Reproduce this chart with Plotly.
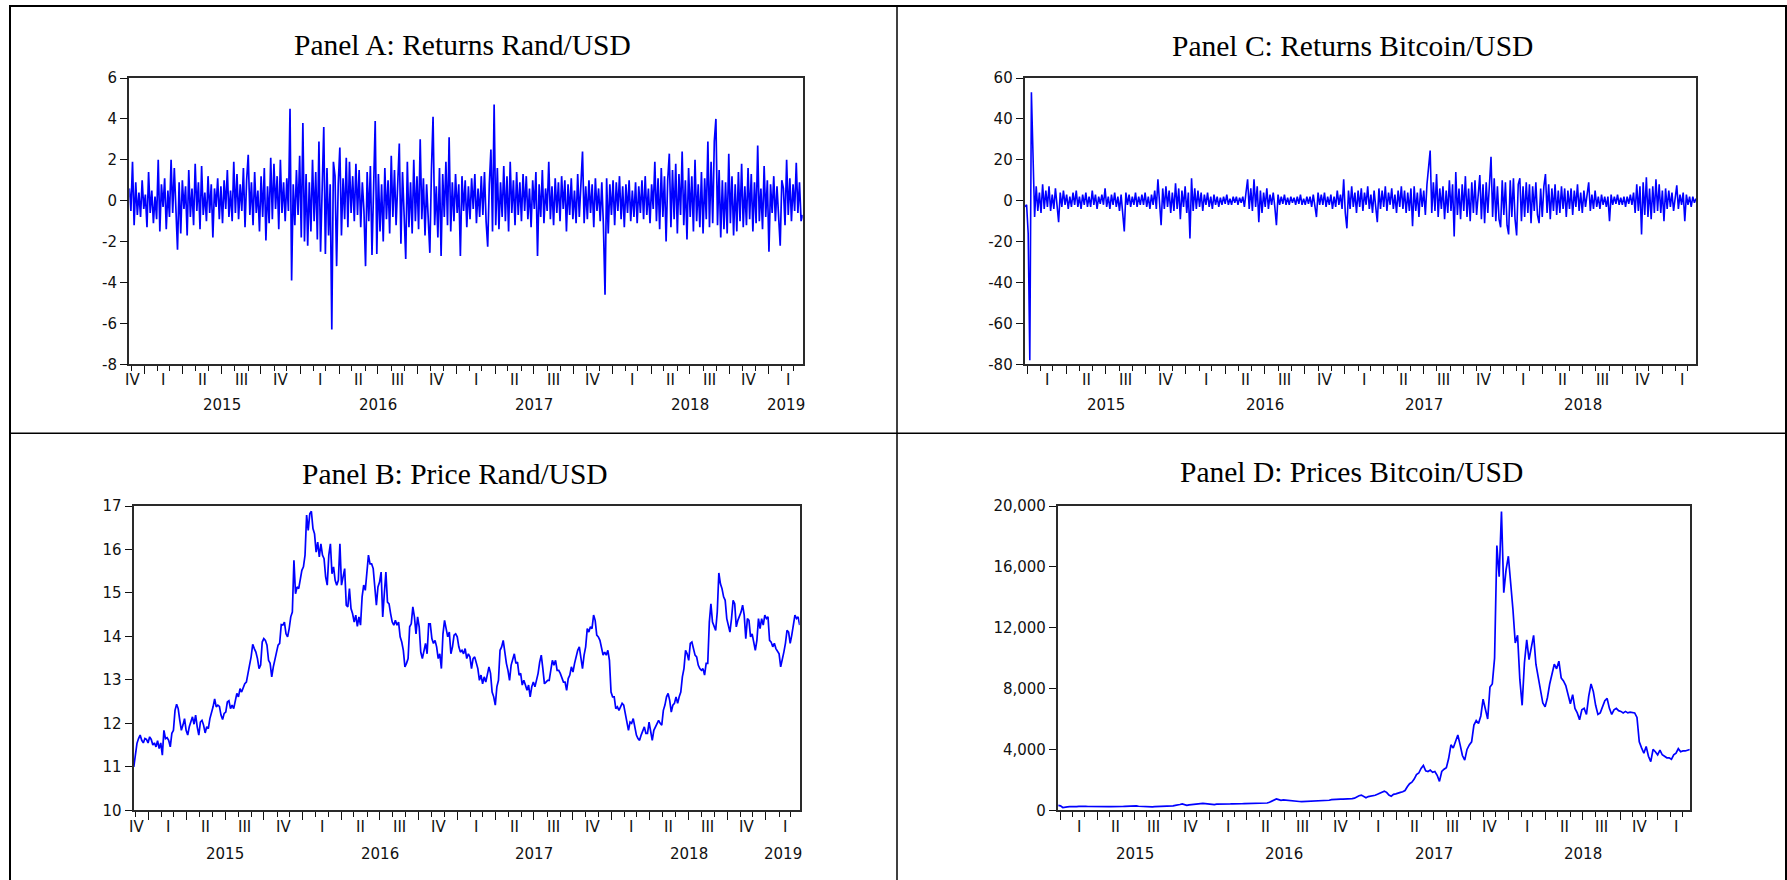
import pandas as pd
import plotly.graph_objects as go

FIG_W, FIG_H = 1787, 880

# Sample windows of the two daily series
RAND_START, RAND_END = "2014-11-27", "2019-03-22"
BTC_START, BTC_END = "2014-12-27", "2019-03-20"

# Daily log returns of Rand/USD (%)
rand_returns = [
    0.6, -0.5, 1.9, -1.2, 0.9, -0.7, 0.4, -0.8, 1.0, -0.4, 0.3, -1.3, 1.4, -0.6, 0.5, -1.1, 0.2, -0.9, 2.0, -1.5,
    0.8, -0.3, 1.1, -1.4, 0.5, -0.8, 2.0, -0.6, 1.6, -0.9, -2.4, 0.9, -1.6, 1.0, -0.4, 0.7, -1.7, 1.5, -0.8, 0.6,
    -1.2, 1.8, -0.5, 0.9, -1.4, 1.7, -0.7, 0.4, -1.0, 1.2, -0.6, 0.8, -1.8, 0.6, -0.3, 1.1, -0.9, 0.7, -1.1, 1.0,
    -0.4, 1.5, -0.8, 0.5, -1.0, 1.9, -0.6, 1.3, -0.9, 0.8, -0.5, 1.6, -1.3, 1.0, 2.25, -0.7, 0.9, -1.2, 1.4, -0.6,
    0.5, -1.5, 1.2, -0.8, 1.6, -1.95, 0.7, -1.1, 2.1, -0.9, 1.8, -0.4, 1.2, -1.4, 2.0, -0.6, 0.9, -1.0, 1.1, -0.5,
    4.5, -3.9, 0.8, -1.2, 1.5, -0.7, 2.2, -1.8, 3.8, -2.0, 1.3, -2.2, 0.9, -1.5, 2.0, -1.0, 1.4, -1.9, 2.9, -2.5,
    1.2, 3.6, -2.6, 1.6, -1.7, 0.8, -6.3, 1.9, 1.2, -3.2, 0.8, 2.6, -1.7, 1.1, -0.9, 2.1, -1.3, 1.9, -0.6, 1.2,
    -1.0, 1.8, -0.7, 1.5, -1.3, 0.9, -0.5, -3.2, 1.4, -1.0, 1.7, -2.65, 0.6, 3.9, -2.6, 1.3, -1.5, 0.8, -2.0, 1.6,
    -0.9, 1.0, -1.6, 2.2, -0.8, 1.5, -1.2, 0.6, 2.8, -2.1, 1.4, -0.7, -2.85, 1.9, -1.3, 0.9, -1.6, 2.0, -1.0, 1.2,
    -1.4, 3.0, -0.9, 1.1, -1.7, 0.8, -1.1, -2.55, 1.5, 4.1, -1.2, 0.7, -1.8, 1.6, -2.7, 1.3, -0.8, 1.9, -1.2, 3.1,
    -1.5, 0.9, -1.0, 1.3, -0.6, 0.8, -2.7, 1.2, -0.5, 1.0, -1.3, 0.7, -0.9, 1.1, -0.4, 1.3, -1.1, 0.6, -0.8, 1.2,
    -0.7, 1.4, -1.0, -2.25, 0.8, 2.5, -1.5, 4.7, -1.2, 1.6, -1.4, 0.9, -0.8, 1.7, -1.0, 1.2, -1.5, 1.9, -0.6, 1.0,
    -1.2, 1.4, -0.7, 0.9, -1.0, 1.3, -0.5, 1.2, -0.9, 0.6, -1.3, 1.0, -0.4, 1.4, -2.7, 0.8, -0.8, 1.5, -1.1, 0.6,
    -0.5, 1.9, -0.9, 0.7, -1.2, 1.1, -0.6, 0.9, -1.0, 1.2, -0.4, 1.0, -1.5, 0.8, -0.7, 1.1, -0.9, 0.5, -1.1, 1.3,
    -0.8, 0.9, 2.4, -1.1, 0.7, -0.9, 1.0, -0.6, 0.8, -1.3, 1.1, -0.5, 0.6, -1.0, 0.9, -1.2, -4.6, 1.1, -1.6, 0.8,
    -0.7, 1.0, -1.2, 0.9, -0.5, 1.2, -0.9, 0.7, -1.3, 0.8, -0.6, 1.0, -1.0, 0.5, -0.8, 0.9, -1.1, 0.7, -0.6, 1.0,
    -0.9, 1.2, -0.7, 0.6, -1.1, 0.8, -0.4, 1.9, -1.0, 1.1, -1.4, 1.6, -0.8, 1.2, -2.0, 1.0, 2.3, -1.3, 1.5, -0.9,
    1.8, -1.6, 1.3, -0.7, 2.4, -1.2, 1.0, -1.9, 1.6, -0.8, 1.2, -1.5, 2.0, -1.0, 0.8, -1.3, 1.4, -1.6, 1.1, -0.9,
    2.9, -1.3, 1.9, -1.1, 2.9, 4.0, -1.2, 1.5, -1.8, 1.0, -1.4, 0.9, -1.6, 2.3, -1.1, 1.2, -1.7, 0.8, -1.5, 1.4,
    -1.0, 1.8, -1.3, 0.7, -1.2, 1.6, -0.9, 1.3, -1.5, 0.9, -1.1, 2.7, -1.0, 0.6, -1.4, 1.7, -0.8, 1.0, -2.5, 0.8,
    -0.6, 1.2, -1.0, 0.7, -0.9, -2.2, 1.0, 0.6, -1.2, 2.0, -0.7, 1.1, -1.0, 0.8, -0.5, 1.85, -0.6, 0.9, -1.0, -0.7,
]

# Rand per US dollar
rand_price = [
    11.00, 11.23, 11.54, 11.65, 11.73, 11.61, 11.55, 11.65, 11.63, 11.55,
    11.69, 11.63, 11.50, 11.55, 11.46, 11.60, 11.42, 11.55, 11.27, 11.84,
    11.65, 11.67, 11.61, 11.46, 11.77, 11.84, 12.30, 12.44, 12.34, 12.07,
    11.84, 11.96, 12.11, 11.84, 11.73, 11.92, 12.07, 12.15, 11.98, 12.19,
    11.92, 11.73, 12.03, 12.07, 11.96, 11.78, 11.92, 11.88, 12.11, 12.23,
    12.38, 12.56, 12.38, 12.42, 12.39, 12.19, 12.09, 12.23, 12.26, 12.49,
    12.52, 12.34, 12.42, 12.34, 12.53, 12.69, 12.61, 12.80, 12.72, 12.84,
    12.91, 12.95, 13.11, 13.34, 13.53, 13.82, 13.72, 13.64, 13.49, 13.26,
    13.34, 13.87, 13.95, 13.91, 13.80, 13.45, 13.38, 13.07, 13.30, 13.47,
    13.60, 13.80, 13.84, 14.27, 14.26, 14.33, 14.06, 13.99, 14.18, 14.45,
    14.56, 15.75, 14.98, 15.14, 15.10, 15.29, 15.52, 15.60, 15.87, 16.79,
    16.44, 16.82, 16.88, 16.48, 16.36, 15.94, 16.17, 15.83, 16.13, 15.87,
    15.79, 15.37, 15.18, 15.87, 16.13, 15.44, 15.60, 15.29, 15.18, 15.29,
    16.13, 15.18, 15.37, 15.56, 14.72, 14.68, 15.10, 14.64, 14.52,
    14.33, 14.49, 14.23, 14.45, 14.26, 14.91, 15.18, 15.06, 15.52, 15.87,
    15.67, 15.67, 15.56, 15.06, 14.72, 15.14, 15.25, 15.48, 14.45,
    14.98, 15.48, 14.79, 14.75, 14.52, 14.33, 14.26, 14.37, 14.26,
    14.33, 13.99, 13.87, 13.68, 13.30, 13.38, 13.49, 14.22, 14.29, 14.68,
    14.45, 14.06, 14.45, 14.22, 13.64, 13.49, 13.68, 13.84, 13.60, 14.29,
    14.29, 13.95, 13.84, 13.91, 13.76, 13.49, 13.60, 13.26, 14.06, 14.37,
    14.18, 13.99, 14.10, 13.60, 13.76, 14.03, 14.06, 13.99, 13.76,
    13.64, 13.68, 13.60, 13.72, 13.49, 13.60, 13.53, 13.26, 13.49, 13.53,
    13.41, 13.26, 12.99, 13.11, 12.91, 13.07, 12.95, 13.11, 13.30, 13.15,
    12.72, 12.61, 12.42, 12.84, 12.99, 13.68, 13.76, 13.91, 13.57, 13.38,
    13.22, 12.99, 13.34, 13.45, 13.60, 13.38, 13.41, 13.11, 13.15, 12.88,
    12.99, 12.88, 12.76, 12.88, 12.61, 12.84, 12.95, 12.84, 12.99, 13.15,
    13.41, 13.57, 13.26, 12.91, 12.95, 12.99, 12.99, 13.18, 13.45, 13.34,
    13.45, 13.22, 13.22, 13.15, 13.07, 12.95, 12.95, 12.76, 13.03, 13.11,
    13.30, 13.18, 13.38, 13.57, 13.68, 13.76, 13.53, 13.26, 13.57, 13.76,
    14.18, 14.10, 14.22, 14.18, 14.49, 14.37, 14.03, 13.99, 13.91, 13.72,
    13.57, 13.64, 13.57, 13.68, 13.45, 12.72, 12.61, 12.61, 12.34, 12.38,
    12.30, 12.38, 12.46, 12.42, 12.23, 12.07, 11.84, 12.03, 12.00, 12.11,
    11.92, 11.73, 11.65, 11.61, 11.73, 11.84, 11.92, 11.77, 11.77, 12.03,
    11.84, 11.61, 11.84, 11.92, 12.03, 12.07, 12.00, 11.96, 12.30, 12.42,
    12.61, 12.69, 12.53, 12.26, 12.42, 12.46, 12.61, 12.46, 12.61, 12.72,
    13.07, 13.26, 13.68, 13.60, 13.45, 13.84, 13.87, 13.68, 13.57, 13.53,
    13.34, 13.26, 13.22, 13.26, 13.11, 13.38, 13.38, 14.33, 14.75, 14.33,
    14.22, 14.14, 14.56, 15.46, 15.21, 15.10, 14.91, 14.83, 14.41, 14.26,
    14.10, 14.41, 14.83, 14.75, 14.22, 14.37, 14.45, 14.56, 14.72, 14.49,
    13.95, 14.41, 14.37, 13.99, 14.06, 13.87, 13.68, 13.91, 14.41, 14.18,
    14.41, 14.26, 14.49, 14.41, 14.45, 13.91, 13.87, 13.76, 13.84, 13.72,
    13.64, 13.60, 13.30, 13.45, 13.64, 13.84, 14.14, 14.10, 13.84, 14.03,
    14.22, 14.49, 14.41, 14.45, 14.26,
]

# Daily log returns of Bitcoin/USD (%)
btc_returns = [
    -3, -2, -16, -78, 53, 20, -8, 7, -5, 4, -6, 8, -4, 5, -3, 7, -5, 3, -4, 6,
    -2, -10.5, 4, -3, 5, -2, 3, -4, 2, -3, 4, -2, 5, -3, 2, -4, 3, -2, 4, -3,
    2, -3, 5, -2, 3, -4, 2, -1.5, 3, -2, 6, -3, 2, -4, 3, -2, 4, -3, 2, -5,
    3, -6, -15, 4, -2, 3, -3, 2, -2, 4, -3, 2, -2, 3, -2, 4, -3, 2, -4, 3,
    -2, 5, -4, 10.5, -3, -12, 6, -4, 7, -3, 5, -6, 4, -5, 8.5, -4, 6, -9, 5, -3,
    7, -6, 4, -18.5, 11, -5, 6, -4, 5, -3, 4, -5, 3, -2, 4, -3, 2, -4, 3, -2,
    2, -3, 1.5, -2, 2, -1.5, 3, -2, 1, -2, 2, -1, 2, -2, 1.5, -1, 2, -3, 4, 10.5,
    -4, 6, -5, 10.5, -3, 7, -10.5, 5, -6, 4, -3, 6, -4, 3, -2, 4, -3, -12, 3, -2,
    2, -1.5, 3, -2, 1.5, -2, 2, -1, 1.5, -2, 2, -1.5, 3, -2, 1, -2, 2, -1.5, 2, -3,
    3, -2, -8, 4, -2, 3, -2, 4, -3, 2, -2, 3, -4, 2, -3, 5, -2, 3, -4, 10.5,
    -6, -13.5, 5, -4, 7, -3, 4, -6, 5, -3, 6, -5, 4, -2, 7, -4, 3, -6, 5, -3,
    -10.5, 6, -4, 5, -3, 7, -5, 4, -2, 6, -4, 3, -6, 5, -3, 7, -4, 5, -6, 4,
    -5, 6, -12.5, 7, -5, 4, -8, 6, -3, 5, -7, 8, 15.5, 24.5, -6, 9, -5, 13, -8, 6,
    -4, 7, -9, 5, -6, 10, -5, 8, -17.5, 14, -7, 6, -9, 8, -5, 12, -8, 6, -10, 9,
    -6, 10, -7, 5, 12.5, -9, 8, -11, 9, -6, 10, 21.5, -8, 11, -10, 7, -9, -13, 10, -7,
    9, -12, -16.5, 10, -8, 11, -9, -17, 8, 11, -10, 7, -8, 9, -6, 8, -11, 7, -5, 9,
    -7, -11, 6, -8, 7, 13, -6, 8, -9, 6, -5, 8, -7, 5, -6, 7, -4, 6, -8, 5,
    -4, 6, -7, 5, -3, 8, -5, 4, -6, 5, -3, 4, 9, -5, 3, -4, 5, -3, 2, -4,
    3, -2, 2, -3, 2, -10, 3, -2, 2, -1.5, 3, -2, 1.5, -2, 2, -3, 2, -1.5, 3, -2,
    4, -6, 8, -5, 7, -16.5, 9, -7, 11.5, -8, 6, -9, 7, -6, 10.5, -5, 8, -6, 5, -10,
    6, -4, 5, -3, 4, -5, 3, 7.5, -4, 3, -2, 4, -10, 3, -2, 2, -3, 2, -1, 1,
]

# Bitcoin price in US dollars
btc_price = [
    320, 290, 180, 220, 230, 240, 230, 235, 245, 260,
    275, 265, 255, 250, 245, 240, 225, 230, 235, 240,
    225, 235, 240, 245, 240, 230, 235, 240, 250, 260,
    270, 285, 280, 275, 285, 265, 255, 235, 230, 235,
    240, 230, 235, 240, 245, 240, 245, 250, 260, 270,
    290, 320, 330, 380, 420, 380, 330, 360, 380, 400,
    430, 450, 440, 455, 440, 430, 410, 370, 380, 410,
    420, 430, 410, 400, 410, 420, 425, 415, 420, 425,
    430, 440, 445, 440, 445, 455, 450, 445, 455, 460,
    450, 480, 530, 590, 680, 750, 700, 650, 680, 660,
    670, 650, 620, 600, 590, 580, 575, 580, 590, 600,
    600, 610, 605, 610, 620, 630, 640, 650, 660, 700,
    720, 710, 720, 730, 740, 740, 750, 760, 770, 800,
    900, 960, 1000, 900, 820, 900, 920, 940, 990, 1050,
    1100, 1200, 1250, 1180, 1000, 930, 1050, 1080, 1150, 1180,
    1220, 1300, 1550, 1750, 1850, 2050, 2350, 2450, 2750, 2950,
    2600, 2550, 2650, 2500, 2550, 2300, 1900, 2550, 2700, 2800,
    3400, 4300, 4100, 4500, 4950, 4300, 3600, 3300, 4000, 4300,
    4500, 5600, 5900, 5700, 6200, 7300, 6700, 6000, 8100, 8300,
    10000,
    17400, 15350, 19630, 14300, 15800, 16700, 15100, 13200, 11000, 11500,
    8600, 6900, 9700, 11200, 9900, 10800, 11500, 9600, 8700, 8000,
    7050, 6800, 7400, 8300, 9000, 9600, 9300, 9800, 8700, 8500,
    8200, 7600, 7000, 7600, 6700, 6400, 5950, 6600, 6700, 6300,
    7500, 8300, 7800, 6900, 6300, 6400, 6800, 7200, 7350, 6700,
    6300, 6600, 6700, 6550, 6500, 6400, 6500, 6400, 6450, 6400,
    6400, 6100, 4500, 4100, 3750, 4200, 3550, 3200, 4000, 3850,
    3650, 3950, 3650, 3550, 3450, 3450, 3350, 3650, 3750, 4050,
    3850, 3900, 3900, 3950, 4000,
]

QUARTER_LABELS = ["I", "II", "III", "IV"]
RAND_YEARS = [2015, 2016, 2017, 2018, 2019]
BTC_YEARS = [2015, 2016, 2017, 2018]

RAND_RET_TICKS = [-8, -6, -4, -2, 0, 2, 4, 6]
RAND_PRICE_TICKS = [10, 11, 12, 13, 14, 15, 16, 17]
BTC_RET_TICKS = [-80, -60, -40, -20, 0, 20, 40, 60]
BTC_PRICE_TICKS = [0, 4000, 8000, 12000, 16000, 20000]

BLUE = "#0000ff"
INK = "#111111"
FRAME = "#2a2a2a"
TICK_FONT = dict(family="DejaVu Sans", size=15, color=INK)
TITLE_FONT = dict(family="Liberation Serif, Times New Roman, serif", size=29.5, color="#000000")

# Panel geometry in pixels: (left, right, top, bottom)
panels = [
    dict(ax="", title="Panel A: Returns Rand/USD", values=rand_returns,
         start=RAND_START, end=RAND_END, ticks=RAND_RET_TICKS, comma=False,
         years=RAND_YEARS, lead_quarter=True, width=1.7,
         box=(129.3, 802.7, 78, 364.3), title_at=(462.7, 45), q_off=16, y_off=41),
    dict(ax="2", title="Panel C: Returns Bitcoin/USD", values=btc_returns,
         start=BTC_START, end=BTC_END, ticks=BTC_RET_TICKS, comma=False,
         years=BTC_YEARS, lead_quarter=False, width=1.6,
         box=(1025, 1696, 78, 364.3), title_at=(1352.5, 46), q_off=16, y_off=41),
    dict(ax="3", title="Panel B: Price Rand/USD", values=rand_price,
         start=RAND_START, end=RAND_END, ticks=RAND_PRICE_TICKS, comma=False,
         years=RAND_YEARS, lead_quarter=True, width=1.7,
         box=(133.8, 799.7, 506, 810.3), title_at=(455, 474), q_off=17, y_off=44),
    dict(ax="4", title="Panel D: Prices Bitcoin/USD", values=btc_price,
         start=BTC_START, end=BTC_END, ticks=BTC_PRICE_TICKS, comma=True,
         years=BTC_YEARS, lead_quarter=False, width=1.7,
         box=(1058.2, 1689.8, 506, 810.3), title_at=(1351, 472), q_off=17, y_off=44),
]


def px_x(x):
    return x / FIG_W


def px_y(y):
    return 1 - y / FIG_H


def tick_text(v, comma):
    return f"{v:,}" if comma else str(v)


def quarter_marks(start, end, lead):
    s, e = pd.Timestamp(start), pd.Timestamp(end)
    marks = []
    for q in pd.period_range(s, e, freq="Q"):
        qs, qe = q.start_time, q.end_time
        mid = qs + (qe - qs) / 2
        if s <= mid <= e:
            marks.append((mid, QUARTER_LABELS[q.quarter - 1]))
        elif lead and qs < s:
            marks.append((s + pd.Timedelta(days=7), QUARTER_LABELS[q.quarter - 1]))
    return marks


def year_marks(start, end, years):
    s, e = pd.Timestamp(start), pd.Timestamp(end)
    marks = []
    for yr in years:
        a = max(s, pd.Timestamp(yr, 1, 1))
        b = min(e, pd.Timestamp(yr, 12, 31))
        marks.append((a + (b - a) / 2, str(yr)))
    return marks


fig = go.Figure()
annotations = []
layout_axes = {}

for p in panels:
    xid, yid = "x" + p["ax"], "y" + p["ax"]
    dates = pd.date_range(p["start"], p["end"], periods=len(p["values"]))
    fig.add_trace(go.Scatter(
        x=dates, y=p["values"], mode="lines", xaxis=xid, yaxis=yid,
        line=dict(color=BLUE, width=p["width"]), hoverinfo="skip", showlegend=False,
    ))
    left, right, top, bottom = p["box"]
    ticks = p["ticks"]
    layout_axes["xaxis" + p["ax"]] = dict(
        type="date", domain=[px_x(left), px_x(right)], anchor=yid,
        range=[p["start"], p["end"]], automargin=False,
        tickmode="linear", tick0="2015-01-01", dtick="M3",
        ticks="outside", ticklen=7.5, tickwidth=1, tickcolor=INK,
        showticklabels=False,
        minor=dict(dtick="M1", tick0="2015-01-01", ticks="outside",
                   ticklen=4.5, tickwidth=1, tickcolor=INK, showgrid=False),
        showgrid=False, zeroline=False,
        showline=True, mirror=True, linecolor=FRAME, linewidth=1.6,
    )
    layout_axes["yaxis" + p["ax"]] = dict(
        domain=[px_y(bottom), px_y(top)], anchor=xid,
        range=[ticks[0], ticks[-1]], automargin=False,
        tickmode="array", tickvals=ticks,
        ticktext=[tick_text(v, p["comma"]) for v in ticks],
        ticks="outside", ticklen=7.5, tickwidth=1, tickcolor=INK,
        tickfont=TICK_FONT, showgrid=False, zeroline=False,
        showline=True, mirror=True, linecolor=FRAME, linewidth=1.6,
    )

    for when, label in quarter_marks(p["start"], p["end"], p["lead_quarter"]):
        annotations.append(dict(
            x=when, y=0, xref=xid, yref=yid + " domain", text=label,
            showarrow=False, yanchor="middle", xanchor="center",
            yshift=-p["q_off"], font=TICK_FONT,
        ))
    for when, label in year_marks(p["start"], p["end"], p["years"]):
        annotations.append(dict(
            x=when, y=0, xref=xid, yref=yid + " domain", text=label,
            showarrow=False, yanchor="middle", xanchor="center",
            yshift=-p["y_off"], font=TICK_FONT,
        ))

    tx, ty = p["title_at"]
    annotations.append(dict(
        x=px_x(tx), y=px_y(ty), xref="paper", yref="paper", text=p["title"],
        showarrow=False, xanchor="center", yanchor="middle", font=TITLE_FONT,
    ))

# Table cell borders around the four panels
border = dict(color="#000000")
shapes = [
    dict(type="line", xref="paper", yref="paper", x0=px_x(9), x1=1, y0=px_y(6), y1=px_y(6),
         line=dict(width=2, **border)),
    dict(type="line", xref="paper", yref="paper", x0=px_x(10), x1=px_x(10), y0=px_y(5), y1=0,
         line=dict(width=2, **border)),
    dict(type="line", xref="paper", yref="paper", x0=px_x(1786), x1=px_x(1786), y0=px_y(5), y1=0,
         line=dict(width=2, **border)),
    dict(type="line", xref="paper", yref="paper", x0=px_x(897), x1=px_x(897), y0=px_y(6), y1=0,
         line=dict(width=1.5, **border)),
    dict(type="line", xref="paper", yref="paper", x0=px_x(10), x1=1, y0=px_y(433.3), y1=px_y(433.3),
         line=dict(width=1.5, **border)),
]

fig.update_layout(
    width=FIG_W, height=FIG_H, autosize=False,
    margin=dict(l=0, r=0, t=0, b=0, pad=0),
    paper_bgcolor="white", plot_bgcolor="white",
    font=dict(family="DejaVu Sans", color=INK),
    showlegend=False, annotations=annotations, shapes=shapes,
    **layout_axes,
)

fig.write_html("out.html")
